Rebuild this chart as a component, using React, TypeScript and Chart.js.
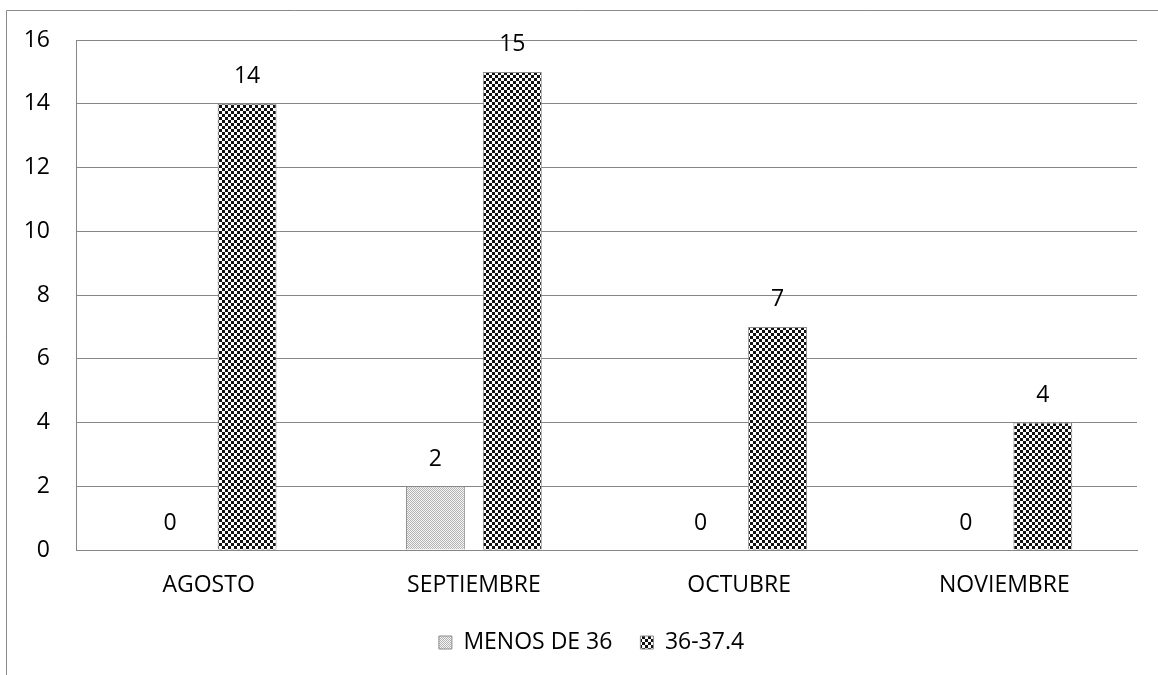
import React, { useEffect, useRef } from 'react';
import { Chart, registerables } from 'chart.js';

Chart.register(...registerables);

const categories = ['AGOSTO', 'SEPTIEMBRE', 'OCTUBRE', 'NOVIEMBRE'];
const seriesNames = ['MENOS DE 36', '36-37.4'];
const menosDe36 = [0, 2, 0, 0];
const rango36 = [14, 15, 7, 4];
const yMin = 0;
const yMax = 16;
const yStep = 2;

const FONT = "'Open Sans', sans-serif";
const FONT_SIZE = 23;

function makeCheckerPattern(ctx: CanvasRenderingContext2D, cell: number, dark: string, light: string) {
  const c = document.createElement('canvas');
  c.width = cell * 2;
  c.height = cell * 2;
  const g = c.getContext('2d')!;
  g.fillStyle = light;
  g.fillRect(0, 0, cell * 2, cell * 2);
  g.fillStyle = dark;
  g.fillRect(0, 0, cell, cell);
  g.fillRect(cell, cell, cell, cell);
  return ctx.createPattern(c, 'repeat')!;
}

const framePlugin = {
  id: 'frame',
  afterLayout(chart: any) {
    // centre the legend under the plot the way the original does
    if (chart.legend) {
      chart.legend.left += 23;
      chart.legend.right += 23;
    }
  },
  beforeDraw(chart: any) {
    const { ctx, width, height } = chart;
    ctx.save();
    ctx.fillStyle = '#ffffff';
    ctx.fillRect(0, 0, width, height);
    ctx.strokeStyle = '#8a8a8a';
    ctx.lineWidth = 1;
    ctx.beginPath();
    ctx.moveTo(6.5, height);
    ctx.lineTo(6.5, 10.5);
    ctx.lineTo(width, 10.5);
    ctx.stroke();
    ctx.restore();
  },
};

const valueLabelPlugin = {
  id: 'valueLabels',
  afterDatasetsDraw(chart: any) {
    const { ctx } = chart;
    ctx.save();
    ctx.font = `${FONT_SIZE}px ${FONT}`;
    ctx.fillStyle = '#000';
    ctx.textAlign = 'center';
    ctx.textBaseline = 'middle';
    chart.data.datasets.forEach((ds: any, i: number) => {
      const meta = chart.getDatasetMeta(i);
      meta.data.forEach((el: any, j: number) => {
        ctx.fillText(String(ds.data[j]), el.x, el.y - 27);
      });
    });
    ctx.restore();
  },
};

export default function App() {
  const ref = useRef<HTMLCanvasElement | null>(null);

  useEffect(() => {
    const canvas = ref.current!;
    const ctx = canvas.getContext('2d')!;
    const lightPat = makeCheckerPattern(ctx, 1, '#b4b4b4', '#f4f4f4');
    const darkPat = makeCheckerPattern(ctx, 3, '#111111', '#ffffff');

    const chart = new Chart(canvas, {
      type: 'bar',
      data: {
        labels: categories,
        datasets: [
          {
            label: seriesNames[0],
            data: menosDe36,
            backgroundColor: lightPat as any,
            borderColor: '#8c8c8c',
            borderWidth: 1,
            categoryPercentage: 0.58,
            barPercentage: 0.766,
          },
          {
            label: seriesNames[1],
            data: rango36,
            backgroundColor: darkPat as any,
            borderColor: '#8c8c8c',
            borderWidth: 1,
            categoryPercentage: 0.58,
            barPercentage: 0.766,
          },
        ],
      },
      options: {
        responsive: false,
        animation: false,
        devicePixelRatio: 1,
        layout: { padding: { left: 0, right: 21, top: 40, bottom: 11 } },
        font: { family: FONT, size: FONT_SIZE },
        color: '#000',
        plugins: {
          tooltip: { enabled: false },
          legend: {
            position: 'bottom',
            labels: {
              color: '#000',
              font: { family: FONT, size: FONT_SIZE },
              boxWidth: 13,
              boxHeight: 13,
              padding: 28,
            },
          },
        },
        scales: {
          x: {
            grid: { display: false, drawTicks: false },
            border: { display: true, color: '#868686' },
            ticks: { color: '#000', font: { family: FONT, size: FONT_SIZE }, padding: 22 },
            afterFit: (s: any) => { s.height = 53; },
          },
          y: {
            min: yMin,
            max: yMax,
            grid: { color: '#868686', drawTicks: false },
            border: { display: true, color: '#868686' },
            ticks: { stepSize: yStep, color: '#000', font: { family: FONT, size: FONT_SIZE }, padding: 26 },
            afterFit: (s: any) => { s.width = 76; },
          },
        },
      } as any,
      plugins: [framePlugin, valueLabelPlugin],
    });
    return () => chart.destroy();
  }, []);

  return (
    <div style={{ position: 'absolute', left: 0, top: 0, width: 1158, height: 675 }}>
      <canvas ref={ref} width={1158} height={675} style={{ display: 'block' }} />
    </div>
  );
}
